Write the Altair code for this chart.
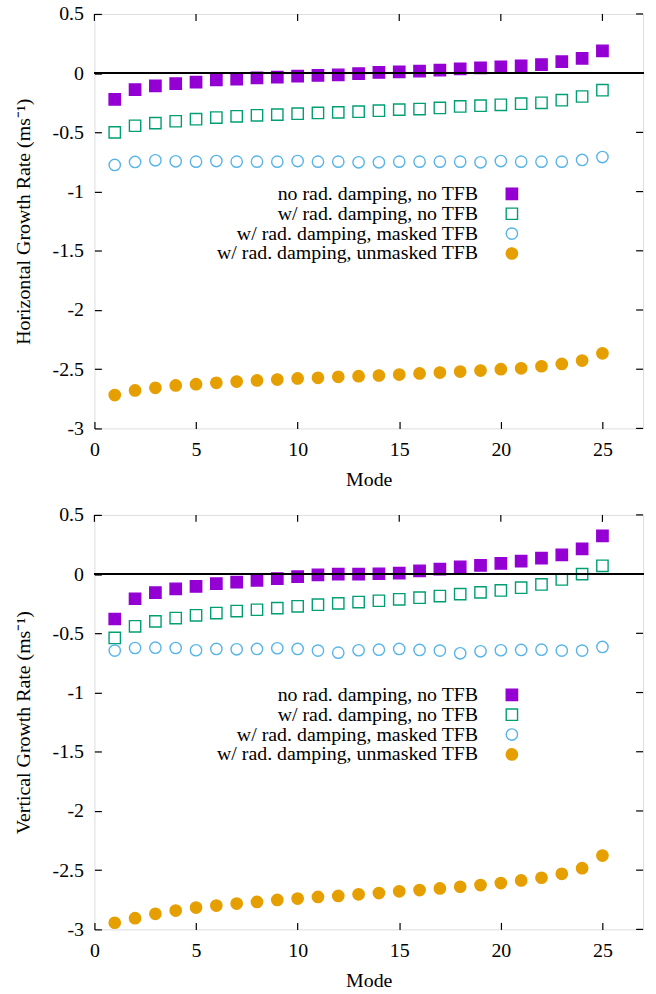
import altair as alt
import pandas as pd

# ---------------- data ----------------
modes = list(range(1, 26))
series_names = [
    "no rad. damping, no TFB",
    "w/ rad. damping, no TFB",
    "w/ rad. damping, masked TFB",
    "w/ rad. damping, unmasked TFB",
]

# Horizontal growth rate
h_no_damp = [-0.222, -0.139, -0.108, -0.089, -0.075, -0.056, -0.050, -0.039, -0.033, -0.025,
             -0.019, -0.014, -0.003, 0.006, 0.011, 0.017, 0.025, 0.036, 0.044, 0.053,
             0.061, 0.072, 0.097, 0.125, 0.189]
h_damp_no_tfb = [-0.500, -0.444, -0.422, -0.406, -0.389, -0.375, -0.364, -0.356, -0.350, -0.342,
                 -0.336, -0.331, -0.325, -0.317, -0.308, -0.303, -0.294, -0.281, -0.275, -0.267,
                 -0.258, -0.250, -0.228, -0.197, -0.144]
h_damp_masked = [-0.775, -0.750, -0.736, -0.744, -0.747, -0.742, -0.747, -0.747, -0.747, -0.742,
                 -0.747, -0.747, -0.753, -0.753, -0.747, -0.747, -0.747, -0.747, -0.753, -0.742,
                 -0.747, -0.747, -0.747, -0.733, -0.708]
h_damp_unmasked = [-2.718, -2.679, -2.657, -2.637, -2.626, -2.615, -2.604, -2.595, -2.587, -2.578,
                   -2.573, -2.564, -2.559, -2.553, -2.545, -2.536, -2.528, -2.520, -2.511, -2.500,
                   -2.492, -2.475, -2.455, -2.427, -2.366]

# Vertical growth rate
v_no_damp = [-0.379, -0.208, -0.157, -0.124, -0.104, -0.081, -0.067, -0.053, -0.039, -0.022,
             -0.006, 0.000, 0.000, 0.003, 0.008, 0.028, 0.042, 0.062, 0.073, 0.090,
             0.110, 0.135, 0.163, 0.213, 0.323]
v_damp_no_tfb = [-0.539, -0.441, -0.399, -0.371, -0.348, -0.329, -0.312, -0.301, -0.287, -0.272,
                 -0.258, -0.247, -0.236, -0.225, -0.213, -0.199, -0.185, -0.169, -0.154, -0.138,
                 -0.115, -0.087, -0.045, 0.000, 0.070]
v_damp_masked = [-0.646, -0.624, -0.621, -0.624, -0.643, -0.632, -0.635, -0.632, -0.626, -0.632,
                 -0.646, -0.663, -0.643, -0.638, -0.632, -0.640, -0.646, -0.669, -0.652, -0.643,
                 -0.640, -0.638, -0.646, -0.646, -0.615]
v_damp_unmasked = [-2.944, -2.905, -2.869, -2.841, -2.816, -2.799, -2.782, -2.768, -2.751, -2.740,
                   -2.726, -2.718, -2.704, -2.693, -2.679, -2.668, -2.654, -2.640, -2.626, -2.609,
                   -2.587, -2.564, -2.531, -2.483, -2.377]

x_tick_values = [0, 5, 10, 15, 20, 25]
y_tick_values = [-3, -2.5, -2, -1.5, -1, -0.5, 0, 0.5]

# ---------------- styles ----------------
FONT = "Liberation Serif"
FS = 20
stroke_colors = ["#9400d3", "#009e73", "#56b4e9", "#e69f00"]
fill_colors = ["#9400d3", "transparent", "transparent", "#e69f00"]
SQUARE = "M-1,-1H1V1H-1Z"
CIRCLE = "M1,0A1,1,0,1,1,-1,0A1,1,0,1,1,1,0Z"
shapes = [SQUARE, SQUARE, CIRCLE, CIRCLE]

W, H = 552, 417
TICK = 7


def long_frame(cols):
    rows = []
    for name, vals in zip(series_names, cols):
        for m, v in zip(modes, vals):
            rows.append({"mode": m, "rate": v, "series": name})
    return pd.DataFrame(rows)


x_ticks_df = pd.DataFrame({"t": x_tick_values})
y_ticks_df = pd.DataFrame({"t": y_tick_values})


def panel(df, ytitle):
    xs = alt.Scale(domain=[0, 27], nice=False, zero=False)
    ys = alt.Scale(domain=[-3, 0.5], nice=False, zero=False)

    legend = alt.Legend(
        orient="none", legendX=410, legendY=171, title=None,
        labelAlign="right", labelOffset={"expr": "-44"},
        labelFont=FONT, labelFontSize=FS,
        labelColor="black", labelLimit=500, symbolSize=130, symbolStrokeWidth=1.4,
        padding=0, rowPadding=0,
    )

    x_axis = alt.Axis(
        values=x_tick_values, domain=False, grid=False, tickSize=TICK, offset=-TICK,
        tickColor="black", tickWidth=1.2, labelFont=FONT, labelFontSize=FS, labelColor="black",
        labelPadding=11, labelFlush=False, labelExpr="'' + datum.value",
        title="Mode", titleFont=FONT, titleFontSize=FS, titleFontWeight="normal",
        titleColor="black", titlePadding=10,
    )
    y_axis = alt.Axis(
        values=y_tick_values, domain=False, grid=False, tickSize=TICK, offset=-TICK,
        tickColor="black", tickWidth=1.2, labelFont=FONT, labelFontSize=FS, labelColor="black",
        labelPadding=11, labelExpr="'' + datum.value",
        title=ytitle, titleFont=FONT, titleFontSize=FS, titleFontWeight="normal",
        titleColor="black", titlePadding=19,
    )

    points = alt.Chart(df).mark_point(opacity=1, size=130, strokeWidth=1.4).encode(
        x=alt.X("mode:Q", scale=xs, axis=x_axis),
        y=alt.Y("rate:Q", scale=ys, axis=y_axis),
        fill=alt.Fill("series:N", scale=alt.Scale(domain=series_names, range=fill_colors), legend=legend),
        stroke=alt.Stroke("series:N", scale=alt.Scale(domain=series_names, range=stroke_colors), legend=legend),
        shape=alt.Shape("series:N", scale=alt.Scale(domain=series_names, range=shapes), legend=legend),
    )
    zero = alt.Chart(df).mark_rule(color="black", strokeWidth=1.5).encode(
        y=alt.YDatum(0, axis=None)
    )
    # mirrored inward ticks on the top and right borders
    top_ticks = alt.Chart(x_ticks_df).mark_rule(color="black", strokeWidth=1.2).encode(
        x=alt.X("t:Q", scale=xs, axis=None),
        y=alt.value(0), y2=alt.value(TICK),
    )
    right_ticks = alt.Chart(y_ticks_df).mark_rule(color="black", strokeWidth=1.2).encode(
        y=alt.Y("t:Q", scale=ys, axis=None),
        x=alt.value(W - TICK), x2=alt.value(W),
    )

    return alt.layer(points, zero, top_ticks, right_ticks).resolve_axis(
        x="independent", y="independent"
    ).properties(width=W, height=H)


top = panel(long_frame([h_no_damp, h_damp_no_tfb, h_damp_masked, h_damp_unmasked]),
            "Horizontal Growth Rate (ms⁻¹)")
bottom = panel(long_frame([v_no_damp, v_damp_no_tfb, v_damp_masked, v_damp_unmasked]),
               "Vertical Growth Rate (ms⁻¹)")

chart = alt.vconcat(top, bottom, spacing=14).resolve_scale(
    fill="independent", stroke="independent", shape="independent"
).properties(
    padding={"left": 12, "top": 0, "right": 11, "bottom": 5}
).configure_view(stroke="black", strokeWidth=1).configure(background="white")

chart.save("out.html", embed_options={"renderer": "svg", "actions": False})
